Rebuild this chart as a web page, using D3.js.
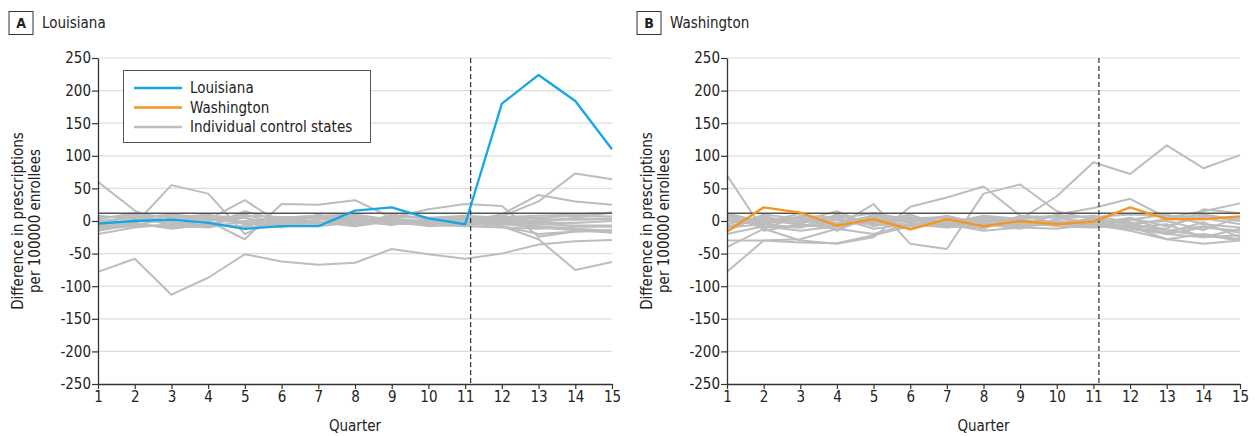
<!DOCTYPE html>
<html><head><meta charset="utf-8">
<script src="https://cdn.jsdelivr.net/npm/d3@7"></script>
<style>
body{margin:0;background:#fff}
text{font-family:"DejaVu Sans Condensed","DejaVu Sans",sans-serif;fill:#222}
</style>
</head><body>
<svg id="c" width="1255" height="436"></svg>
<script>
// ---------- DATA ----------
const quarters = [1,2,3,4,5,6,7,8,9,10,11,12,13,14,15];
const yTicks = [-250,-200,-150,-100,-50,0,50,100,150,200,250];
const policyQuarter = 11.15;
const referenceValue = 12;

const louisiana = [-4,0,2,-3,-12,-8,-8,16,21,4,-5,180,224,184,110];
const washington = [-16,21,13,-7,3,-13,3,-8,0,-5,-1,21,3,3,7];

const controlsA = [
  [-78,-58,-113,-87,-51,-62,-67,-64,-43,-51,-58,-50,-36,-31,-29],
  [60,16,-8,-5,8,6,4,-2,3,0,-3,-5,-10,-14,-18],
  [-15,-5,55,42,-20,5,8,10,2,-2,-4,-8,-28,-75,-63],
  [-5,10,-8,2,32,-5,10,-6,8,5,2,6,-2,5,13],
  [-20,-10,-5,0,-28,26,25,32,5,18,26,23,-24,-16,-15],
  [5,8,0,10,-5,2,5,-8,10,3,2,7,30,73,64],
  [-10,-5,-10,-8,15,0,-5,5,-2,-5,0,10,40,30,25],
  [0,5,10,5,-2,-10,3,8,-3,-6,-8,-10,-12,-9,-9],
  [-8,-3,-12,-5,5,-8,-2,-5,0,-8,-5,-2,-5,-7,-7],
  [-12,-8,-6,-10,0,5,8,3,-5,-3,2,3,5,8,7],
  [3,12,5,10,-3,2,-5,2,6,5,8,5,3,2,3],
  [-3,-2,8,-2,-10,-3,-8,-2,4,-3,-6,-3,-8,-12,-15],
  [8,3,-3,0,10,-5,2,6,-4,2,4,6,8,10,13],
  [-6,2,-2,-6,-8,5,-2,-8,0,-2,-3,0,-3,-3,0],
  [2,-6,4,3,-4,-2,6,0,-6,3,6,-8,-20,-16,-14],
  [-2,6,0,8,5,-6,-3,4,2,-4,-1,2,0,4,4]
];

const controlsB = [
  [70,-15,-5,-12,5,-3,-8,-10,2,-5,-8,-12,-20,-10,-15],
  [-78,-30,-28,-12,-20,-5,-10,-5,-8,-5,-3,-8,-28,-35,-30],
  [-20,-8,-15,-8,26,-35,-43,42,56,15,2,-5,-15,-22,-30],
  [-40,-12,-30,-35,-25,22,36,53,8,-3,-6,-10,-5,-25,-22],
  [-10,-5,-10,10,-5,-8,-5,-8,2,38,90,72,116,81,101],
  [-30,-30,-33,-34,-22,-8,-5,-15,-10,-12,-5,-15,-28,-20,-28],
  [5,-5,5,-3,8,0,5,-3,-8,10,20,34,5,15,27],
  [-10,5,0,15,-8,3,-2,5,-3,0,-6,-8,-12,18,12],
  [10,-12,8,5,-12,-5,2,-8,5,8,6,10,8,5,-5],
  [-5,8,-8,-5,3,6,-6,2,-5,-5,-2,4,-15,-8,-18],
  [0,-3,12,-15,10,-2,8,-5,-12,3,8,-2,-20,-25,-12],
  [8,0,-4,8,-3,10,-10,6,0,-8,-10,-6,3,10,2],
  [-15,10,3,-6,5,-12,0,-12,8,5,-3,2,10,-5,-10],
  [3,-8,-10,2,-6,4,6,-3,-6,-2,2,-10,-18,-2,-25],
  [-8,2,6,-8,0,-6,-3,8,3,6,-5,5,-8,8,0],
  [12,-2,-2,4,12,2,-4,0,-2,-4,4,-4,0,-14,6]
];

const legendLabels = ["Louisiana","Washington","Individual control states"];
const COLORS = {la:"#13a8e3", wa:"#f7941d", ctrl:"#bdbdbd"};

// ---------- DRAW ----------
const svg = d3.select("#c");

function panel(opt){
  const g = svg.append("g");
  const x = d3.scaleLinear().domain([1,15]).range([opt.x0, opt.x1]);
  const y = d3.scaleLinear().domain([-250,250]).range([384, 58]);

  // title
  g.append("rect").attr("x",opt.tx).attr("y",11.5).attr("width",24).attr("height",23)
    .attr("fill","none").attr("stroke","#333").attr("stroke-width",1);
  g.append("text").attr("x",opt.tx+12).attr("y",28).attr("text-anchor","middle")
    .attr("font-weight","bold").attr("font-size",14).text(opt.letter);
  g.append("text").attr("x",opt.tx+33).attr("y",28).attr("font-size",15).text(opt.title);

  // gridlines
  g.append("g").selectAll("line").data(yTicks.filter(d=>d!==-250)).join("line")
    .attr("x1",opt.x0).attr("x2",opt.x1).attr("y1",d=>y(d)).attr("y2",d=>y(d))
    .attr("stroke","#dcdcdc").attr("stroke-width",1.2);

  const line = d3.line().x((d,i)=>x(quarters[i])).y(d=>y(d));

  g.append("g").selectAll("path").data(opt.controls).join("path")
    .attr("d",line).attr("fill","none").attr("stroke",COLORS.ctrl).attr("stroke-width",2)
    .attr("stroke-linejoin","round");

  g.append("line").attr("x1",opt.x0).attr("x2",opt.x1)
    .attr("y1",y(referenceValue)).attr("y2",y(referenceValue))
    .attr("stroke","#555").attr("stroke-width",1.5);

  g.append("line").attr("x1",x(policyQuarter)).attr("x2",x(policyQuarter))
    .attr("y1",y(250)).attr("y2",y(-250))
    .attr("stroke","#333").attr("stroke-width",1.2).attr("stroke-dasharray","5,3");

  g.append("path").attr("d",line(opt.main)).attr("fill","none")
    .attr("stroke",opt.color).attr("stroke-width",2.3).attr("stroke-linejoin","round");

  // axes
  const ya = g.append("g").attr("transform",`translate(${opt.x0},0)`)
    .call(d3.axisLeft(y).tickValues(yTicks).tickFormat(d=>String(d)).tickSize(6).tickSizeOuter(0));
  const xa = g.append("g").attr("transform",`translate(0,384)`)
    .call(d3.axisBottom(x).tickValues(quarters).tickFormat(d=>String(d)).tickSize(5).tickSizeOuter(0));
  [ya,xa].forEach(a=>{
    a.select(".domain").attr("stroke","#333").attr("stroke-width",1.3);
    a.selectAll(".tick line").attr("stroke","#333").attr("stroke-width",1.2);
    a.selectAll("text").attr("font-size",15).attr("fill","#222")
      .attr("font-family",'"DejaVu Sans Condensed","DejaVu Sans",sans-serif');
  });
  ya.selectAll("text").attr("x",-7);
  xa.selectAll("text").attr("y",7);

  g.append("text").attr("x",(opt.x0+opt.x1)/2).attr("y",431).attr("text-anchor","middle")
    .attr("font-size",15).text("Quarter");

  const yl = g.append("text").attr("transform",`translate(${opt.yl},221) rotate(-90)`)
    .attr("text-anchor","middle").attr("font-size",15);
  yl.append("tspan").attr("x",0).attr("dy",0).text("Difference in prescriptions");
  yl.append("tspan").attr("x",0).attr("dy",17).text("per 100000 enrollees");
  return {x,y};
}

panel({x0:98,x1:612,tx:9,letter:"A",title:"Louisiana",controls:controlsA,main:louisiana,color:COLORS.la,yl:23});
panel({x0:727,x1:1240,tx:637,letter:"B",title:"Washington",controls:controlsB,main:washington,color:COLORS.wa,yl:652});

// legend
const lg = svg.append("g");
lg.append("rect").attr("x",123.5).attr("y",70.5).attr("width",247).attr("height",72)
  .attr("fill","#fff").attr("stroke","#555").attr("stroke-width",1);
const lc = [COLORS.la, COLORS.wa, COLORS.ctrl];
const rows = lg.selectAll("g").data(legendLabels).join("g")
  .attr("transform",(d,i)=>`translate(134,${88+i*19.5})`);
rows.append("line").attr("x1",0).attr("x2",48).attr("stroke",(d,i)=>lc[i]).attr("stroke-width",2.3);
rows.append("text").attr("x",56).attr("y",5).attr("font-size",15).text(d=>d);
</script>
</body></html>
